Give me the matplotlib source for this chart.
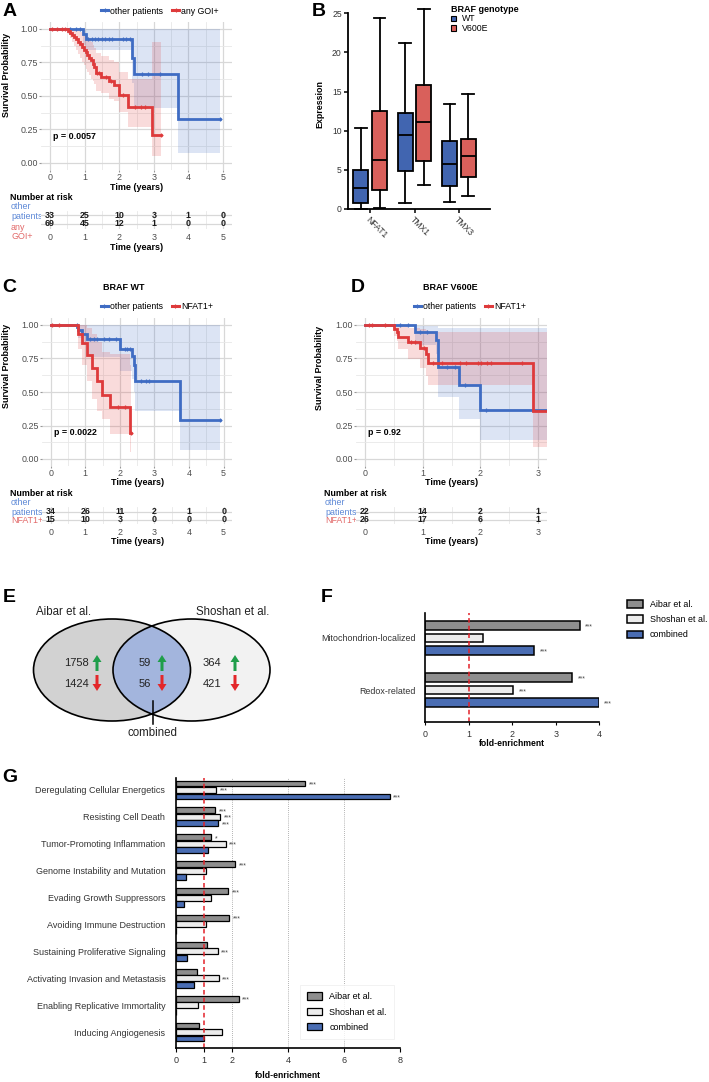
import numpy as np
import matplotlib
matplotlib.use('Agg')
import matplotlib.pyplot as plt
from matplotlib.patches import Ellipse, FancyArrow, Patch
from matplotlib.lines import Line2D
from matplotlib.ticker import MultipleLocator, FixedLocator

plt.rcParams['font.family'] = ['Liberation Sans', 'DejaVu Sans']

# ======================= DATA =======================
# ---- Panel A: Kaplan-Meier, other patients vs any GOI+ ----
a_other_t = [0.95, 1.05, 2.36, 2.42, 3.71]
a_other_s = [0.96, 0.923, 0.785, 0.662, 0.33]
a_other_lo = [1.0, 0.88, 0.84, 0.60, 0.41, 0.075]
a_other_hi = [1.0, 1.0, 1.0, 1.0, 1.0, 1.0]
a_other_end = 4.9
a_other_cens = [0.58, 0.75, 0.87, 1.1, 1.2, 1.3, 1.4, 1.5, 1.6, 1.7, 1.8,
                2.1, 2.2, 2.3, 2.65, 2.84, 3.18, 4.9]

a_goi_t = [0.52, 0.58, 0.64, 0.70, 0.76, 0.82, 0.88, 0.93, 0.98, 1.03, 1.08,
           1.13, 1.18, 1.23, 1.28, 1.32, 1.48, 1.70, 1.85, 2.0, 2.25, 2.95]
a_goi_s = [0.985, 0.97, 0.955, 0.94, 0.925, 0.905, 0.885, 0.865, 0.845, 0.825,
           0.805, 0.785, 0.765, 0.74, 0.715, 0.67, 0.645, 0.61, 0.585, 0.505,
           0.42, 0.21]
a_goi_lo = [1.0, 0.96, 0.93, 0.90, 0.87, 0.84, 0.81, 0.78, 0.75, 0.73, 0.70,
            0.68, 0.66, 0.63, 0.61, 0.59, 0.54, 0.52, 0.48, 0.46, 0.38, 0.27, 0.05]
a_goi_hi = [1.0, 1.0, 1.0, 1.0, 1.0, 1.0, 1.0, 0.98, 0.97, 0.96, 0.95, 0.94,
            0.92, 0.90, 0.88, 0.86, 0.82, 0.80, 0.77, 0.75, 0.68, 0.63, 0.90]
a_goi_end = 3.2
a_goi_cens = [0.05, 0.19, 0.34, 0.43, 1.36, 1.42, 1.62, 1.75, 2.1, 2.45, 2.62,
              2.75, 3.2]

a_risk_t = [0, 1, 2, 3, 4, 5]
a_risk_other = [33, 25, 10, 3, 1, 0]
a_risk_goi = [69, 45, 12, 1, 0, 0]
a_pval = "p = 0.0057"

# ---- Panel B: expression boxplots ----
b_genes = ["NFAT1", "TMX1", "TMX3"]
b_wt_low = [0.0, 0.8, 0.9]
b_wt_q1 = [0.8, 4.9, 2.9]
b_wt_med = [2.7, 9.5, 5.7]
b_wt_q3 = [5.0, 12.2, 8.7]
b_wt_high = [10.4, 21.2, 13.4]
b_v6_low = [0.15, 3.1, 1.6]
b_v6_q1 = [2.4, 6.1, 4.1]
b_v6_med = [6.3, 11.1, 6.8]
b_v6_q3 = [12.5, 15.8, 9.0]
b_v6_high = [24.4, 25.5, 14.7]

# ---- Panel C: BRAF WT ----
c_other_t = [0.76, 0.8, 0.9, 1.04, 2.0, 2.36, 2.4, 2.45, 3.73]
c_other_s = [0.985, 0.96, 0.935, 0.895, 0.82, 0.77, 0.70, 0.585, 0.29]
c_other_lo = [1.0, 0.96, 0.90, 0.85, 0.76, 0.66, 0.60, 0.50, 0.36, 0.07]
c_other_hi = [1.0, 1.0, 1.0, 1.0, 1.0, 1.0, 1.0, 1.0, 1.0, 1.0]
c_other_end = 4.9
c_other_cens = [0.75, 1.15, 1.25, 1.35, 1.55, 1.7, 1.9, 2.15, 2.22, 2.3,
                2.6, 2.75, 2.85, 4.9]

c_nfat_t = [0.78, 0.9, 1.05, 1.2, 1.33, 1.48, 1.72, 2.28]
c_nfat_s = [0.93, 0.863, 0.776, 0.676, 0.58, 0.477, 0.39, 0.194]
c_nfat_lo = [1.0, 0.82, 0.70, 0.58, 0.45, 0.36, 0.30, 0.19, 0.05]
c_nfat_hi = [1.0, 1.0, 1.0, 0.98, 0.93, 0.87, 0.80, 0.78, 0.70]
c_nfat_end = 2.33
c_nfat_cens = [0.05, 0.25, 1.95, 2.15, 2.33]

c_risk_t = [0, 1, 2, 3, 4, 5]
c_risk_other = [34, 26, 11, 2, 1, 0]
c_risk_nfat = [15, 10, 3, 0, 0, 0]
c_pval = "p = 0.0022"

# ---- Panel D: BRAF V600E ----
d_other_t = [0.87, 1.23, 1.27, 1.63, 2.0]
d_other_s = [0.945, 0.89, 0.69, 0.552, 0.366]
d_other_lo = [1.0, 0.85, 0.78, 0.465, 0.30, 0.14]
d_other_hi = [1.0, 0.99, 0.99, 0.98, 0.98, 0.98]
d_other_end = 3.15
d_other_cens = [0.6, 0.75, 0.95, 1.07, 1.42, 1.56, 1.73, 2.1]

d_nfat_t = [0.5, 0.55, 0.58, 0.75, 0.95, 1.05, 1.1, 2.92]
d_nfat_s = [0.97, 0.95, 0.913, 0.876, 0.826, 0.78, 0.715, 0.358]
d_nfat_lo = [1.0, 0.92, 0.88, 0.82, 0.75, 0.68, 0.62, 0.55, 0.09]
d_nfat_hi = [1.0, 1.0, 1.0, 1.0, 0.98, 0.97, 0.96, 0.95, 0.95]
d_nfat_end = 3.15
d_nfat_cens = [0.07, 0.12, 0.35, 0.8, 0.86, 1.02, 1.18, 1.33, 1.65, 1.76,
               1.96, 2.02, 2.11, 2.18, 2.72]

d_risk_t = [0, 1, 2, 3]
d_risk_other = [22, 14, 2, 1]
d_risk_nfat = [26, 17, 6, 1]
d_pval = "p = 0.92"

# ---- Panel E: Venn counts ----
e_aibar_up, e_aibar_down = 1758, 1424
e_comb_up, e_comb_down = 59, 56
e_shoshan_up, e_shoshan_down = 364, 421

# ---- Panel F ----
f_cats = ["Mitochondrion-localized", "Redox-related"]
f_aibar = [3.55, 3.38]
f_shoshan = [1.32, 2.03]
f_combined = [2.50, 3.99]
f_aibar_sig = ["***", "***"]
f_shoshan_sig = ["", "***"]
f_combined_sig = ["***", "***"]

# ---- Panel G ----
g_cats = ["Deregulating Cellular Energetics", "Resisting Cell Death",
          "Tumor-Promoting Inflammation", "Genome Instability and Mutation",
          "Evading Growth Suppressors", "Avoiding Immune Destruction",
          "Sustaining Proliferative Signaling",
          "Activating Invasion and Metastasis",
          "Enabling Replicative Immortality", "Inducing Angiogenesis"]
g_aibar = [4.61, 1.40, 1.26, 2.13, 1.87, 1.91, 1.13, 0.77, 2.25, 0.84]
g_shoshan = [1.44, 1.58, 1.78, 1.08, 1.26, 1.07, 1.50, 1.54, 0.80, 1.64]
g_combined = [7.64, 1.52, 1.16, 0.36, 0.31, 0.0, 0.42, 0.64, 0.0, 1.01]
g_aibar_sig = ["***", "***", "*", "***", "***", "***", "", "", "***", ""]
g_shoshan_sig = ["***", "***", "***", "", "", "", "***", "***", "", ""]
g_combined_sig = ["***", "***", "", "", "", "", "", "", "", ""]

# ======================= STYLE =======================
W, H = 709, 1082
fig = plt.figure(figsize=(W / 100, H / 100), dpi=100)

BLUE = '#3f6cc3'
RED = '#de3a3b'
BLUE_T = '#5b87d6'
RED_T = '#e26a6a'
WT_C = '#4165b0'
V6_C = '#d9605b'
C_AIB = '#8e8e8e'
C_SHO = '#ececec'
C_COM = '#4a6db3'
RED_LINE = '#e3222a'

ov = fig.add_axes([0, 0, 1, 1])
ov.set_xlim(0, W)
ov.set_ylim(H, 0)
ov.axis('off')


def rect_axes(l, t, r, b):
    return fig.add_axes([l / W, 1 - b / H, (r - l) / W, (b - t) / H])


def place_xlabel(ax, rect, text, ypx, size=6.5):
    l, t, r, b = rect
    ax.set_xlabel(text, fontsize=size, fontweight='bold')
    ax.xaxis.set_label_coords(0.5, (b - ypx) / (b - t))
    ax.xaxis.label.set_va('center')


def place_ylabel(ax, rect, text, xpx, ypx, size=6.5):
    l, t, r, b = rect
    ax.set_ylabel(text, fontsize=size, fontweight='bold')
    ax.yaxis.set_label_coords((xpx - l) / (r - l), (b - ypx) / (b - t))
    ax.yaxis.label.set_va('center')
    ax.yaxis.label.set_ha('center')


def surv_at(t, times, surv):
    s = 1.0
    for ti, si in zip(times, surv):
        if t >= ti:
            s = si
    return s


def draw_km(ax, times, surv, lo, hi, end, cens, color):
    x = [0.0] + list(times) + [end]
    y = [1.0] + list(surv) + [surv[-1]]
    lo_ = list(lo) + [lo[-1]]
    hi_ = list(hi) + [hi[-1]]
    ax.fill_between(x, lo_, hi_, step='post', color=color, alpha=0.18, lw=0)
    ax.step(x, y, where='post', color=color, lw=2.0, solid_joinstyle='miter')
    cy = [surv_at(c, times, surv) for c in cens]
    ax.plot(cens, cy, ls='none', marker='+', ms=3.5, mew=0.9, color=color)


def style_km(ax, xlim, xmajor):
    ax.set_xlim(*xlim)
    ax.set_ylim(-0.05, 1.05)
    ax.xaxis.set_major_locator(FixedLocator(xmajor))
    ax.xaxis.set_minor_locator(MultipleLocator(0.5))
    ax.yaxis.set_major_locator(FixedLocator([0, 0.25, 0.5, 0.75, 1.0]))
    ax.yaxis.set_minor_locator(MultipleLocator(0.125))
    ax.set_yticklabels(['0.00', '0.25', '0.50', '0.75', '1.00'])
    ax.grid(which='major', color='#d8d8d8', lw=0.9)
    ax.grid(which='minor', color='#e8e8e8', lw=0.6)
    ax.set_axisbelow(True)
    for s in ax.spines.values():
        s.set_visible(False)
    ax.tick_params(which='major', length=1.5, color='#999999', labelsize=6.4,
                   labelcolor='#4d4d4d', pad=0.8)
    ax.tick_params(which='minor', length=0)


def risk_table(rect, xlim, xticks, times, rows, xlabel_y):
    ax = rect_axes(*rect)
    ax.set_xlim(*xlim)
    ax.set_ylim(1.5, -0.5)
    for i, r in enumerate(rows):
        for t, n in zip(times, r):
            ax.text(t, i, str(n), ha='center', va='center', fontsize=6.4,
                    fontweight='bold', color='#1a1a1a')
    ax.set_yticks([0, 1])
    ax.set_yticklabels([])
    ax.xaxis.set_major_locator(FixedLocator(xticks))
    ax.xaxis.set_minor_locator(MultipleLocator(0.5))
    ax.grid(which='major', color='#d8d8d8', lw=0.9)
    ax.grid(which='minor', axis='x', color='#e8e8e8', lw=0.6)
    ax.set_axisbelow(True)
    for s in ax.spines.values():
        s.set_visible(False)
    ax.tick_params(which='both', length=0, labelsize=6.4, labelcolor='#4d4d4d',
                   pad=3)
    place_xlabel(ax, rect, 'Time (years)', xlabel_y)
    return ax


def km_legend(ax, labels, cx, cy):
    handles = [Line2D([], [], color=BLUE, lw=2.2, marker='+', ms=3, mew=0.8),
               Line2D([], [], color=RED, lw=2.2, marker='+', ms=3, mew=0.8)]
    ax.legend(handles, labels, loc='center', bbox_to_anchor=(cx / W, 1 - cy / H),
              bbox_transform=fig.transFigure, ncol=2, frameon=False,
              fontsize=6.3, handlelength=0.8, handletextpad=0.25,
              columnspacing=1.0, borderpad=0, borderaxespad=0)


# ======================= PANEL A =======================
rA = (41.35, 22.3, 231.65, 169.7)
axA = rect_axes(*rA)
draw_km(axA, a_other_t, a_other_s, a_other_lo, a_other_hi, a_other_end, a_other_cens, BLUE)
draw_km(axA, a_goi_t, a_goi_s, a_goi_lo, a_goi_hi, a_goi_end, a_goi_cens, RED)
style_km(axA, (-0.25, 5.25), [0, 1, 2, 3, 4, 5])
axA.text(0.1, 0.2, a_pval, fontsize=6.4, fontweight='bold', va='center')
place_xlabel(axA, rA, 'Time (years)', 187)
place_ylabel(axA, rA, 'Survival Probability', 6.5, 74.5)
km_legend(axA, ['other patients', 'any GOI+'], 160, 11)
risk_table((41.35, 210.5, 231.65, 228.5), (-0.25, 5.25), [0, 1, 2, 3, 4, 5],
           a_risk_t, [a_risk_other, a_risk_goi], 247)
ov.text(10, 197, 'Number at risk', fontsize=6.4, fontweight='bold', va='center')
ov.text(11, 211.5, 'other\npatients', fontsize=6.4, color=BLUE_T, va='center', linespacing=1.05)
ov.text(11, 232, 'any\nGOI+', fontsize=6.4, color=RED_T, va='center', linespacing=1.05)

# ======================= PANEL B =======================
rB = (348, 13.3, 490, 209)
axB = rect_axes(*rB)
posB = np.arange(1, len(b_genes) + 1)
wt_stats = [dict(whislo=b_wt_low[i], q1=b_wt_q1[i], med=b_wt_med[i], q3=b_wt_q3[i],
                 whishi=b_wt_high[i], fliers=[]) for i in range(len(b_genes))]
v6_stats = [dict(whislo=b_v6_low[i], q1=b_v6_q1[i], med=b_v6_med[i], q3=b_v6_q3[i],
                 whishi=b_v6_high[i], fliers=[]) for i in range(len(b_genes))]
for stats, off, col in [(wt_stats, -0.21, WT_C), (v6_stats, 0.21, V6_C)]:
    bp = axB.bxp(stats, positions=posB + off, widths=0.34, patch_artist=True,
                 showfliers=False, manage_ticks=False, capwidths=0.26,
                 boxprops=dict(facecolor=col, edgecolor='k', lw=1.3),
                 medianprops=dict(color='k', lw=1.3),
                 whiskerprops=dict(color='k', lw=1.3),
                 capprops=dict(color='k', lw=1.3))
    for art in bp['whiskers'] + bp['caps']:
        art.set_clip_on(False)
axB.set_xlim(0.5, 3.7)
axB.set_ylim(0, 25)
axB.set_yticks([0, 5, 10, 15, 20, 25])
axB.set_xticks(posB)
axB.set_xticklabels(b_genes, rotation=-45, ha='left', va='top', rotation_mode='anchor')
for s in ['top', 'right']:
    axB.spines[s].set_visible(False)
for s in ['left', 'bottom']:
    axB.spines[s].set_linewidth(1.3)
axB.tick_params(direction='out', length=3, width=1.1, labelsize=6.2, pad=1.5,
                labelcolor='#333333')
place_ylabel(axB, rB, 'Expression', 320, 103.5, size=6.4)
legB = axB.legend([Patch(facecolor=WT_C, edgecolor='k', lw=0.8),
                   Patch(facecolor=V6_C, edgecolor='k', lw=0.8)], ['WT', 'V600E'],
                  title='BRAF genotype', loc='upper left',
                  bbox_to_anchor=(451 / W, 1 - 5 / H), bbox_transform=fig.transFigure,
                  frameon=False, fontsize=6.3, handlelength=0.6, handleheight=0.6,
                  handletextpad=0.6, labelspacing=0.05, borderpad=0, borderaxespad=0,
                  alignment='left',
                  title_fontproperties={'weight': 'bold', 'size': 6.5})

# ======================= PANEL C =======================
rC = (42, 318.3, 232.3, 465.7)
axC = rect_axes(*rC)
draw_km(axC, c_other_t, c_other_s, c_other_lo, c_other_hi, c_other_end, c_other_cens, BLUE)
draw_km(axC, c_nfat_t, c_nfat_s, c_nfat_lo, c_nfat_hi, c_nfat_end, c_nfat_cens, RED)
style_km(axC, (-0.25, 5.25), [0, 1, 2, 3, 4, 5])
axC.text(0.1, 0.2, c_pval, fontsize=6.4, fontweight='bold', va='center')
place_xlabel(axC, rC, 'Time (years)', 482.7)
place_ylabel(axC, rC, 'Survival Probability', 6.5, 366)
km_legend(axC, ['other patients', 'NFAT1+'], 157, 307)
risk_table((42, 507.25, 232.3, 524.25), (-0.25, 5.25), [0, 1, 2, 3, 4, 5],
           c_risk_t, [c_risk_other, c_risk_nfat], 541.7)
ov.text(10, 493, 'Number at risk', fontsize=6.4, fontweight='bold', va='center')
ov.text(11, 507.5, 'other\npatients', fontsize=6.4, color=BLUE_T, va='center', linespacing=1.05)
ov.text(11, 520.5, 'NFAT1+', fontsize=6.4, color=RED_T, va='center')
ov.text(124, 287, 'BRAF WT', fontsize=6.5, fontweight='bold', ha='center', va='center')

# ======================= PANEL D =======================
rD = (356.35, 318.3, 546.65, 465.7)
axD = rect_axes(*rD)
draw_km(axD, d_other_t, d_other_s, d_other_lo, d_other_hi, d_other_end, d_other_cens, BLUE)
draw_km(axD, d_nfat_t, d_nfat_s, d_nfat_lo, d_nfat_hi, d_nfat_end, d_nfat_cens, RED)
style_km(axD, (-0.15, 3.15), [0, 1, 2, 3])
axD.text(0.05, 0.2, d_pval, fontsize=6.4, fontweight='bold', va='center')
place_xlabel(axD, rD, 'Time (years)', 482.7)
place_ylabel(axD, rD, 'Survival Probability', 319, 368)
km_legend(axD, ['other patients', 'NFAT1+'], 470, 307)
risk_table((356.35, 507.25, 546.65, 524.25), (-0.15, 3.15), [0, 1, 2, 3],
           d_risk_t, [d_risk_other, d_risk_nfat], 541.7)
ov.text(324, 493, 'Number at risk', fontsize=6.4, fontweight='bold', va='center')
ov.text(325, 507.5, 'other\npatients', fontsize=6.4, color=BLUE_T, va='center', linespacing=1.05)
ov.text(325, 520.5, 'NFAT1+', fontsize=6.4, color=RED_T, va='center')
ov.text(450, 287, 'BRAF V600E', fontsize=6.5, fontweight='bold', ha='center', va='center')

# ======================= PANEL E (Venn) =======================
L_C, R_C, EW, EH = (112, 670), (191.5, 670), 157, 102
ov.add_patch(Ellipse(R_C, EW, EH, fc='#f2f2f2', ec='none'))
ov.add_patch(Ellipse(L_C, EW, EH, fc='#d2d2d2', ec='none'))
inter = Ellipse(L_C, EW, EH, fc='#a3b5dd', ec='none')
ov.add_patch(inter)
inter.set_clip_path(Ellipse(R_C, EW, EH, transform=ov.transData))
ov.add_patch(Ellipse(L_C, EW, EH, fc='none', ec='k', lw=1.2))
ov.add_patch(Ellipse(R_C, EW, EH, fc='none', ec='k', lw=1.2))
ov.text(64, 612, 'Aibar et al.', fontsize=8.3, ha='center', va='center', color='#222222')
ov.text(233, 612, 'Shoshan et al.', fontsize=8.3, ha='center', va='center', color='#222222')
GREEN = '#1f9e4a'
for xnum, xar, up, dn in [(76, 97, e_aibar_up, e_aibar_down),
                          (145, 162, e_comb_up, e_comb_down),
                          (212, 235, e_shoshan_up, e_shoshan_down)]:
    ov.text(xnum, 663, str(up), fontsize=8, ha='center', va='center', color='#222222')
    ov.text(xnum, 684, str(dn), fontsize=8, ha='center', va='center', color='#222222')
    ov.add_patch(FancyArrow(xar, 671, 0, -16, width=3, head_width=9, head_length=7,
                            length_includes_head=True, color=GREEN, lw=0))
    ov.add_patch(FancyArrow(xar, 675, 0, 16, width=3, head_width=9, head_length=7,
                            length_includes_head=True, color='#e3272a', lw=0))
ov.plot([153, 153], [701, 724], color='k', lw=1.1)
ov.text(153, 733, 'combined', fontsize=8.3, ha='center', va='center', color='#222222')

# ======================= PANEL F =======================
rF = (425, 613, 599.3, 722)
axF = rect_axes(*rF)
yF = np.arange(len(f_cats))
offF, hF = 0.237, 0.165
series_F = [(f_aibar, f_aibar_sig, C_AIB, -offF, 'Aibar et al.'),
            (f_shoshan, f_shoshan_sig, C_SHO, 0.0, 'Shoshan et al.'),
            (f_combined, f_combined_sig, C_COM, offF, 'combined')]
hands_F = []
for vals, sig, col, off, lab in series_F:
    bars = axF.barh(yF + off, vals, height=hF, color=col, edgecolor='k', lw=1.1, label=lab)
    hands_F.append(bars)
    for b, s in zip(bars, sig):
        if s:
            axF.annotate(s, (b.get_width(), b.get_y() + b.get_height() / 2),
                         xytext=(4, -1), textcoords='offset points', fontsize=5,
                         va='center', color='#444444', annotation_clip=False)
axF.axvline(1, color=RED_LINE, ls=(0, (3, 2)), lw=1.1)
axF.set_xlim(0, 4)
axF.set_ylim(1.615, -0.48)
axF.set_yticks(yF)
axF.set_yticklabels(f_cats)
axF.set_xticks([0, 1, 2, 3, 4])
for s in ['top', 'right']:
    axF.spines[s].set_visible(False)
for s in ['left', 'bottom']:
    axF.spines[s].set_linewidth(1.2)
axF.tick_params(axis='y', length=0, pad=7, labelsize=6.4, labelcolor='#333333')
axF.tick_params(axis='x', length=2.5, pad=3, labelsize=6.4, labelcolor='#333333')
place_xlabel(axF, rF, 'fold-enrichment', 743.3, size=6.2)
axF.legend(handles=hands_F, loc='upper left', bbox_to_anchor=(627 / W, 1 - 600 / H),
           bbox_transform=fig.transFigure, frameon=False, fontsize=6.4,
           handlelength=1.8, handleheight=0.9, handletextpad=0.8, labelspacing=0.7,
           borderpad=0, borderaxespad=0)

# ======================= PANEL G =======================
rG = (175.7, 778, 400, 1048)
axG = rect_axes(*rG)
yG = np.arange(len(g_cats))
offG, hG = 0.242, 0.22
series_G = [(g_aibar, g_aibar_sig, C_AIB, -offG, 'Aibar et al.'),
            (g_shoshan, g_shoshan_sig, C_SHO, 0.0, 'Shoshan et al.'),
            (g_combined, g_combined_sig, C_COM, offG, 'combined')]
for xv in [2, 4, 6, 8]:
    axG.axvline(xv, color='#9a9a9a', ls=(0, (1, 1.5)), lw=0.6, zorder=0)
hands_G = []
for vals, sig, col, off, lab in series_G:
    bars = axG.barh(yG + off, vals, height=hG, color=col, edgecolor='k', lw=0.9, label=lab)
    hands_G.append(bars)
    for b, s in zip(bars, sig):
        if s:
            axG.annotate(s, (b.get_width(), b.get_y() + b.get_height() / 2),
                         xytext=(2.5, -1), textcoords='offset points', fontsize=5,
                         va='center', color='#444444', annotation_clip=False)
axG.axvline(1, color=RED_LINE, ls=(0, (3, 2)), lw=1.1)
axG.set_xlim(0, 8)
axG.set_ylim(9.595, -0.446)
axG.set_yticks(yG)
axG.set_yticklabels(g_cats)
axG.set_xticks([0, 1, 2, 4, 6, 8])
for s in ['top', 'right']:
    axG.spines[s].set_visible(False)
for s in ['left', 'bottom']:
    axG.spines[s].set_linewidth(1.2)
axG.tick_params(axis='y', length=0, pad=7.5, labelsize=6.5, labelcolor='#333333')
axG.tick_params(axis='x', length=3, pad=3, labelsize=6.5, labelcolor='#333333')
place_xlabel(axG, rG, 'fold-enrichment', 1076, size=6.2)
legG = axG.legend(handles=hands_G, loc='upper left', bbox_to_anchor=(300 / W, 1 - 985 / H),
                  bbox_transform=fig.transFigure, frameon=True, fancybox=False,
                  fontsize=6.5, handlelength=1.65, handleheight=0.9, handletextpad=0.8,
                  labelspacing=0.7, borderpad=0.8, borderaxespad=0)
legG.get_frame().set_edgecolor('#ececec')
legG.get_frame().set_linewidth(0.6)

# ======================= PANEL LETTERS =======================
for letter, x, y in [('A', 10, 12), ('B', 319, 12), ('C', 9, 288), ('D', 358, 288),
                     ('E', 9, 597), ('F', 327, 597), ('G', 10, 777)]:
    ov.text(x, y, letter, fontsize=14, fontweight='bold', ha='center', va='center')

fig.savefig('out.png', dpi=100)
